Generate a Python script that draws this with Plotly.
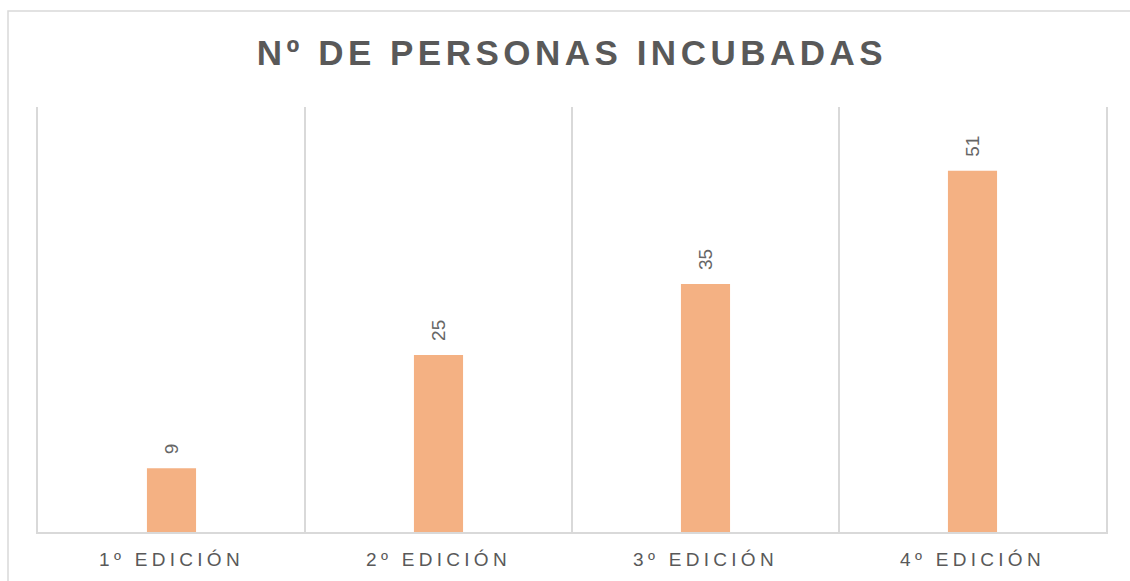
import plotly.graph_objects as go

categories = ["1º EDICIÓN", "2º EDICIÓN", "3º EDICIÓN", "4º EDICIÓN"]
values = [9, 25, 35, 51]
title_text = "Nº DE PERSONAS INCUBADAS"

BAR_COLOR = "#F4B183"
TEXT_COLOR = "#595959"
LABEL_COLOR = "#666666"
GRID_COLOR = "#D9D9D9"
FONT = "Liberation Sans, Arial, sans-serif"

W, H = 1130, 581
L, R, T, B = 38, 24, 107, 49

fig = go.Figure()
fig.add_trace(go.Bar(
    x=categories, y=values,
    marker=dict(color=BAR_COLOR, line=dict(width=0)),
    hoverinfo="x+y",
))

for c, v in zip(categories, values):
    fig.add_annotation(
        x=c, y=v, xref="x", yref="y",
        text=str(v), showarrow=False, textangle=-90,
        yanchor="bottom", xanchor="center", yshift=12,
        font=dict(family=FONT, size=19, color=LABEL_COLOR),
    )

pw = W - L - R
ph = H - T - B
# chart frame (decorative border)
fig.add_shape(
    type="rect", xref="paper", yref="paper",
    x0=(8 - L) / pw, x1=(W + 10 - L) / pw,
    y0=(H - B - (H + 10)) / ph, y1=(H - B - 11) / ph,
    line=dict(color=GRID_COLOR, width=1.5), fillcolor="rgba(0,0,0,0)", layer="below",
)

fig.update_layout(
    width=W, height=H,
    margin=dict(l=L, r=R, t=T, b=B, pad=0),
    paper_bgcolor="white", plot_bgcolor="white",
    showlegend=False,
    bargap=0.816,
    title=dict(
        text="<b>" + title_text + "</b>",
        x=0.5, xref="paper", xanchor="center",
        y=1 - 53 / H, yref="container", yanchor="middle",
        font=dict(family=FONT, size=35, color=TEXT_COLOR),
    ),
    xaxis=dict(
        type="category", range=[-0.5, 3.5],
        tickson="boundaries", ticks="",
        showgrid=True, gridcolor=GRID_COLOR, gridwidth=1.5,
        showline=True, linecolor=GRID_COLOR, linewidth=1.5,
        tickfont=dict(family=FONT, size=19, color=TEXT_COLOR),
        ticklabelstandoff=9,
        fixedrange=True,
    ),
    yaxis=dict(
        range=[0, 60], showgrid=False, zeroline=False,
        showline=True, mirror=True, linecolor=GRID_COLOR, linewidth=1.5,
        showticklabels=False, ticks="", fixedrange=True,
    ),
)

post = """
document.body.style.margin = '0';
var gd = document.getElementById('{plot_id}');
function spaceText() {
  gd.querySelectorAll('.gtitle').forEach(function(e){ e.setAttribute('letter-spacing', '4.5px'); });
  gd.querySelectorAll('.xtick text').forEach(function(e){ e.setAttribute('letter-spacing', '4.3px'); });
}
spaceText();
gd.on('plotly_afterplot', spaceText);
"""

fig.write_html("out.html", post_script=post, config={"displayModeBar": False})
